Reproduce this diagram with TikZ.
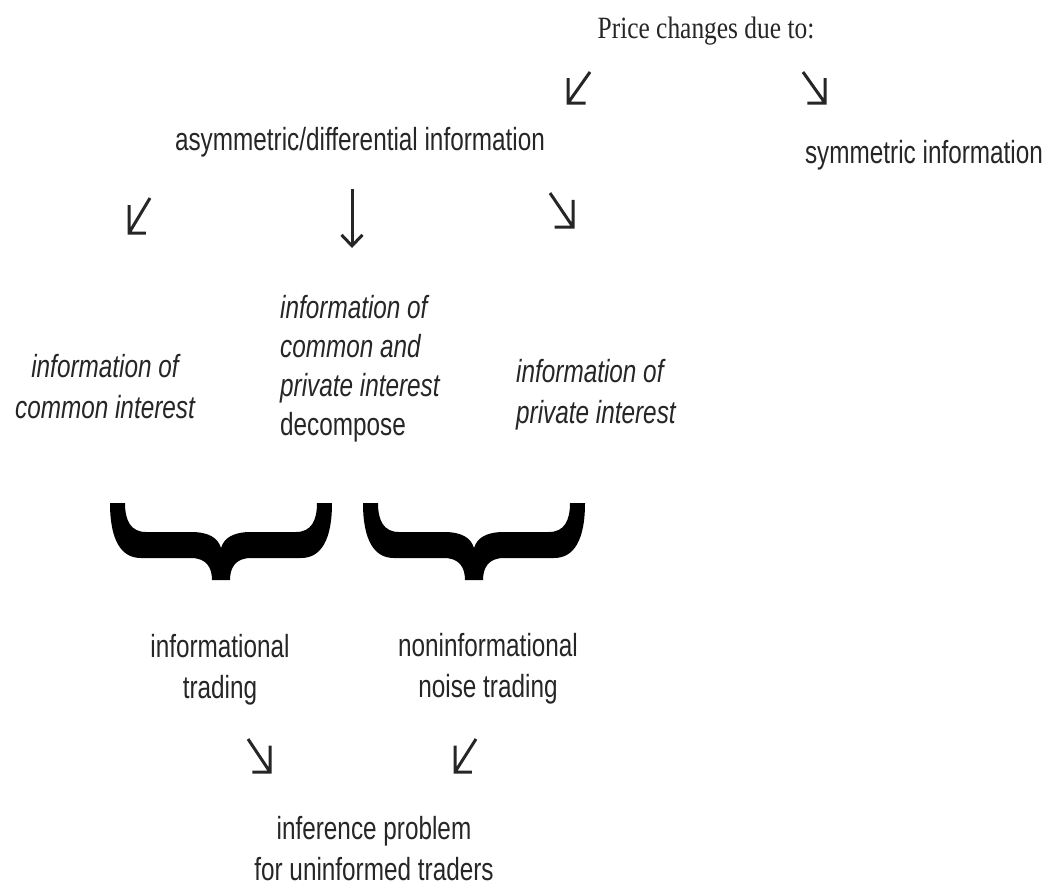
\documentclass[tikz,border=0pt]{standalone}
\usepackage{fontspec}
\setmainfont[FakeStretch=0.76]{Liberation Sans}
\newfontfamily\titlefont[FakeStretch=0.82]{Liberation Serif}
\usetikzlibrary{calc,arrows.meta}
\definecolor{txt}{RGB}{38,38,38}
\tikzset{
  lbl/.style={inner sep=0pt, text=txt, font=\fontsize{32}{41}\selectfont},
  ilbl/.style={lbl, font=\fontsize{32}{41}\selectfont\itshape},
  glyph/.style={draw=txt, line width=3pt, line join=miter,
    to path={(\tikztostart) -- (\tikztotarget)
      ($(\tikztotarget)!0.8!(\tikztostart)$) coordinate (armpt)
      (\tikztotarget |- armpt) -- (\tikztotarget) -- (armpt |- \tikztotarget)}},
  downarrow/.style={draw=txt, line width=3pt, -{Straight Barb[length=11pt,width=21pt]}},
  bigbrace/.pic={
    \fill[black] (-111,0)
      .. controls (-111,37) and (-100,55) .. (-80,55)
      -- (-30,55)
      .. controls (-15,55) and (-9,64) .. (-9,77)
      -- (9,77)
      .. controls (9,64) and (15,55) .. (30,55)
      -- (80,55)
      .. controls (100,55) and (111,37) .. (111,0)
      -- (96,0)
      .. controls (96,18) and (90,29) .. (75,29)
      -- (30,29)
      .. controls (12,29) and (3,35) .. (0,45)
      .. controls (-3,35) and (-12,29) .. (-30,29)
      -- (-75,29)
      .. controls (-90,29) and (-96,18) .. (-96,0)
      -- cycle;
  }
}
\begin{document}
\begin{tikzpicture}[x=1pt,y=-1pt]
\useasboundingbox[fill=white] (0,0) rectangle (1049,887);

% texts (anchor base = baseline of the last line)
\node[lbl, font=\titlefont\fontsize{31}{36}\selectfont, anchor=base] (title) at (706,38) {Price changes due to:};
\node[lbl, anchor=base] (asym) at (360,150) {asymmetric/differential information};
\node[lbl, anchor=base] (sym) at (924,163) {symmetric information};
\node[ilbl, anchor=base, align=center] (common) at (105,418) {information of\\common interest};
\node[ilbl, font=\fontsize{32}{39}\selectfont\itshape, anchor=base west, align=left] (both) at (280,435) {information of\\common and\\private interest\\\upshape decompose};
\node[ilbl, anchor=base west, align=left] (private) at (516,423) {information of\\private interest};
\node[lbl, anchor=base, align=center] (inftr) at (220,698) {informational\\trading};
\node[lbl, anchor=base, align=center] (noise) at (488,697) {noninformational\\noise trading};
\node[lbl, anchor=base, align=center] (infer) at (374,880) {inference problem\\for uninformed traders};

% arrow glyph end points
\coordinate (a1s) at (590,72);  \coordinate (a1t) at (568,103);
\coordinate (a2s) at (803,72);  \coordinate (a2t) at (825,103);
\coordinate (a3s) at (150,198); \coordinate (a3t) at (129,233);
\coordinate (a4s) at (352,189); \coordinate (a4t) at (352,248);
\coordinate (a5s) at (550,193); \coordinate (a5t) at (573,227);
\coordinate (a6s) at (248,739); \coordinate (a6t) at (270,772);
\coordinate (a7s) at (476,739); \coordinate (a7t) at (455,772);

\draw[glyph] (a1s) to (a1t);
\draw[glyph] (a2s) to (a2t);
\draw[glyph] (a3s) to (a3t);
\draw[downarrow] (a4s) -- (a4t);
\draw[glyph] (a5s) to (a5t);
\draw[glyph] (a6s) to (a6t);
\draw[glyph] (a7s) to (a7t);

% braces
\pic (bl) at (221,503) {bigbrace};
\pic (br) at (474,503) {bigbrace};
\end{tikzpicture}
\end{document}
